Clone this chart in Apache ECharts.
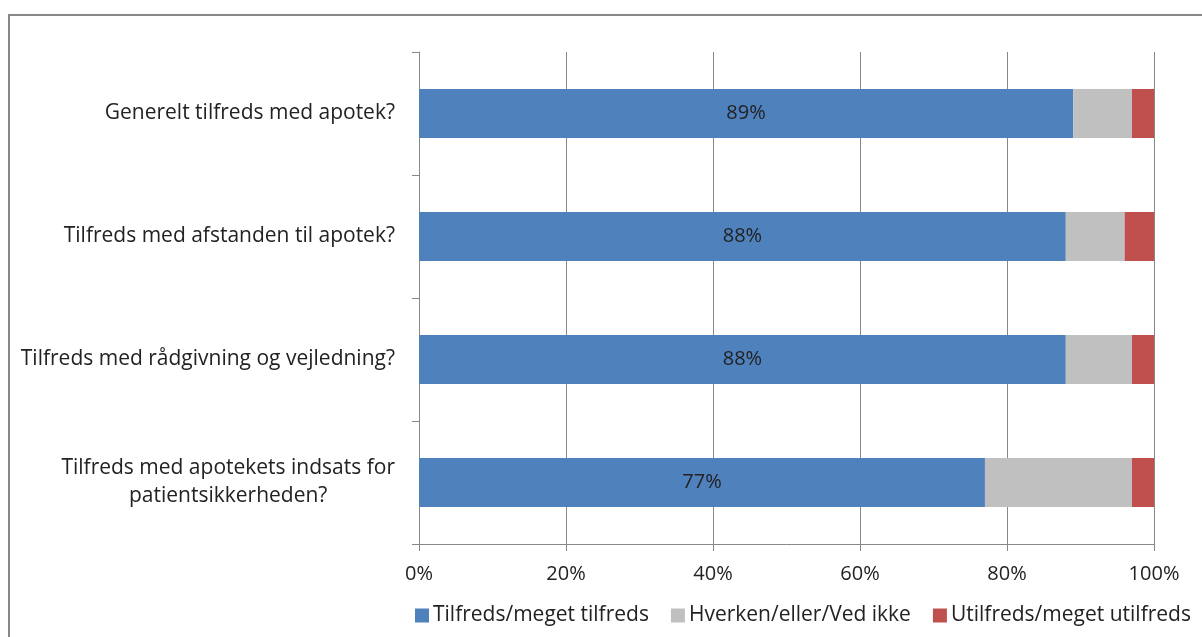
<!DOCTYPE html>
<html>
<head>
<meta charset="utf-8">
<script src="https://cdn.jsdelivr.net/npm/echarts@6/dist/echarts.min.js"></script>
<style>
html,body{margin:0;padding:0;background:#fff;}
#c{width:1202px;height:637px;}
</style>
</head>
<body>
<div id="c"></div>
<script>
const categories = [
  "Generelt tilfreds med apotek?",
  "Tilfreds med afstanden til apotek?",
  "Tilfreds med rådgivning og vejledning?",
  "Tilfreds med apotekets indsats for\npatientsikkerheden?"
];
const seriesNames = ["Tilfreds/meget tilfreds", "Hverken/eller/Ved ikke", "Utilfreds/meget utilfreds"];
const satisfied = [89, 88, 88, 77];
const neutral = [8, 8, 9, 20];
const dissatisfied = [3, 4, 3, 3];
const xTicks = [0, 20, 40, 60, 80, 100];

const colors = ["#4F81BD", "#C0C0C0", "#C0504D"];
const font = "'Open Sans', sans-serif";
const chart = echarts.init(document.getElementById('c'));
chart.setOption({
  animation: false,
  textStyle: { fontFamily: font },
  graphic: [{
    type: 'rect',
    shape: { x: 9, y: 15, width: 1250, height: 700 },
    style: { fill: 'none', stroke: '#888888', lineWidth: 2 },
    silent: true
  }],
  grid: { left: 419, right: 48, top: 52, bottom: 93, containLabel: false },
  legend: {
    bottom: 6,
    left: 410,
    itemWidth: 14,
    itemHeight: 14,
    itemGap: 22,
    icon: 'rect',
    textStyle: { fontSize: 21, color: '#222', fontFamily: font, padding: [0, 0, 0, -1] },
    data: seriesNames
  },
  xAxis: {
    type: 'value',
    min: 0, max: 100, interval: 20,
    axisLine: { show: true, lineStyle: { color: '#888888' } },
    axisTick: { show: true, length: 7, lineStyle: { color: '#888888' } },
    splitLine: { show: true, lineStyle: { color: '#888888', width: 1 } },
    axisLabel: {
      fontSize: 20, color: '#222', margin: 20, fontFamily: font,
      formatter: v => xTicks.includes(v) ? v + '%' : ''
    }
  },
  yAxis: {
    type: 'category',
    inverse: true,
    data: categories,
    axisLine: { show: true, lineStyle: { color: '#888888' } },
    axisTick: { show: true, length: 7, lineStyle: { color: '#888888' } },
    axisLabel: {
      fontSize: 21, color: '#222', margin: 24, align: 'right',
      fontFamily: font,
      formatter: v => v.split('\n').map(l => '{c|' + l + '}').join('\n'),
      rich: { c: { align: 'center', fontSize: 21, lineHeight: 28, color: '#222', fontFamily: font } }
    }
  },
  series: [
    {
      name: seriesNames[0], type: 'bar', stack: 's', data: satisfied,
      barWidth: '40%', itemStyle: { color: colors[0] },
      label: { show: true, position: 'inside', fontSize: 20, color: '#222', fontFamily: font, formatter: p => p.value + '%' }
    },
    {
      name: seriesNames[1], type: 'bar', stack: 's', data: neutral,
      barWidth: '40%', itemStyle: { color: colors[1] }
    },
    {
      name: seriesNames[2], type: 'bar', stack: 's', data: dissatisfied,
      barWidth: '40%', itemStyle: { color: colors[2] }
    }
  ]
});
</script>
</body>
</html>
